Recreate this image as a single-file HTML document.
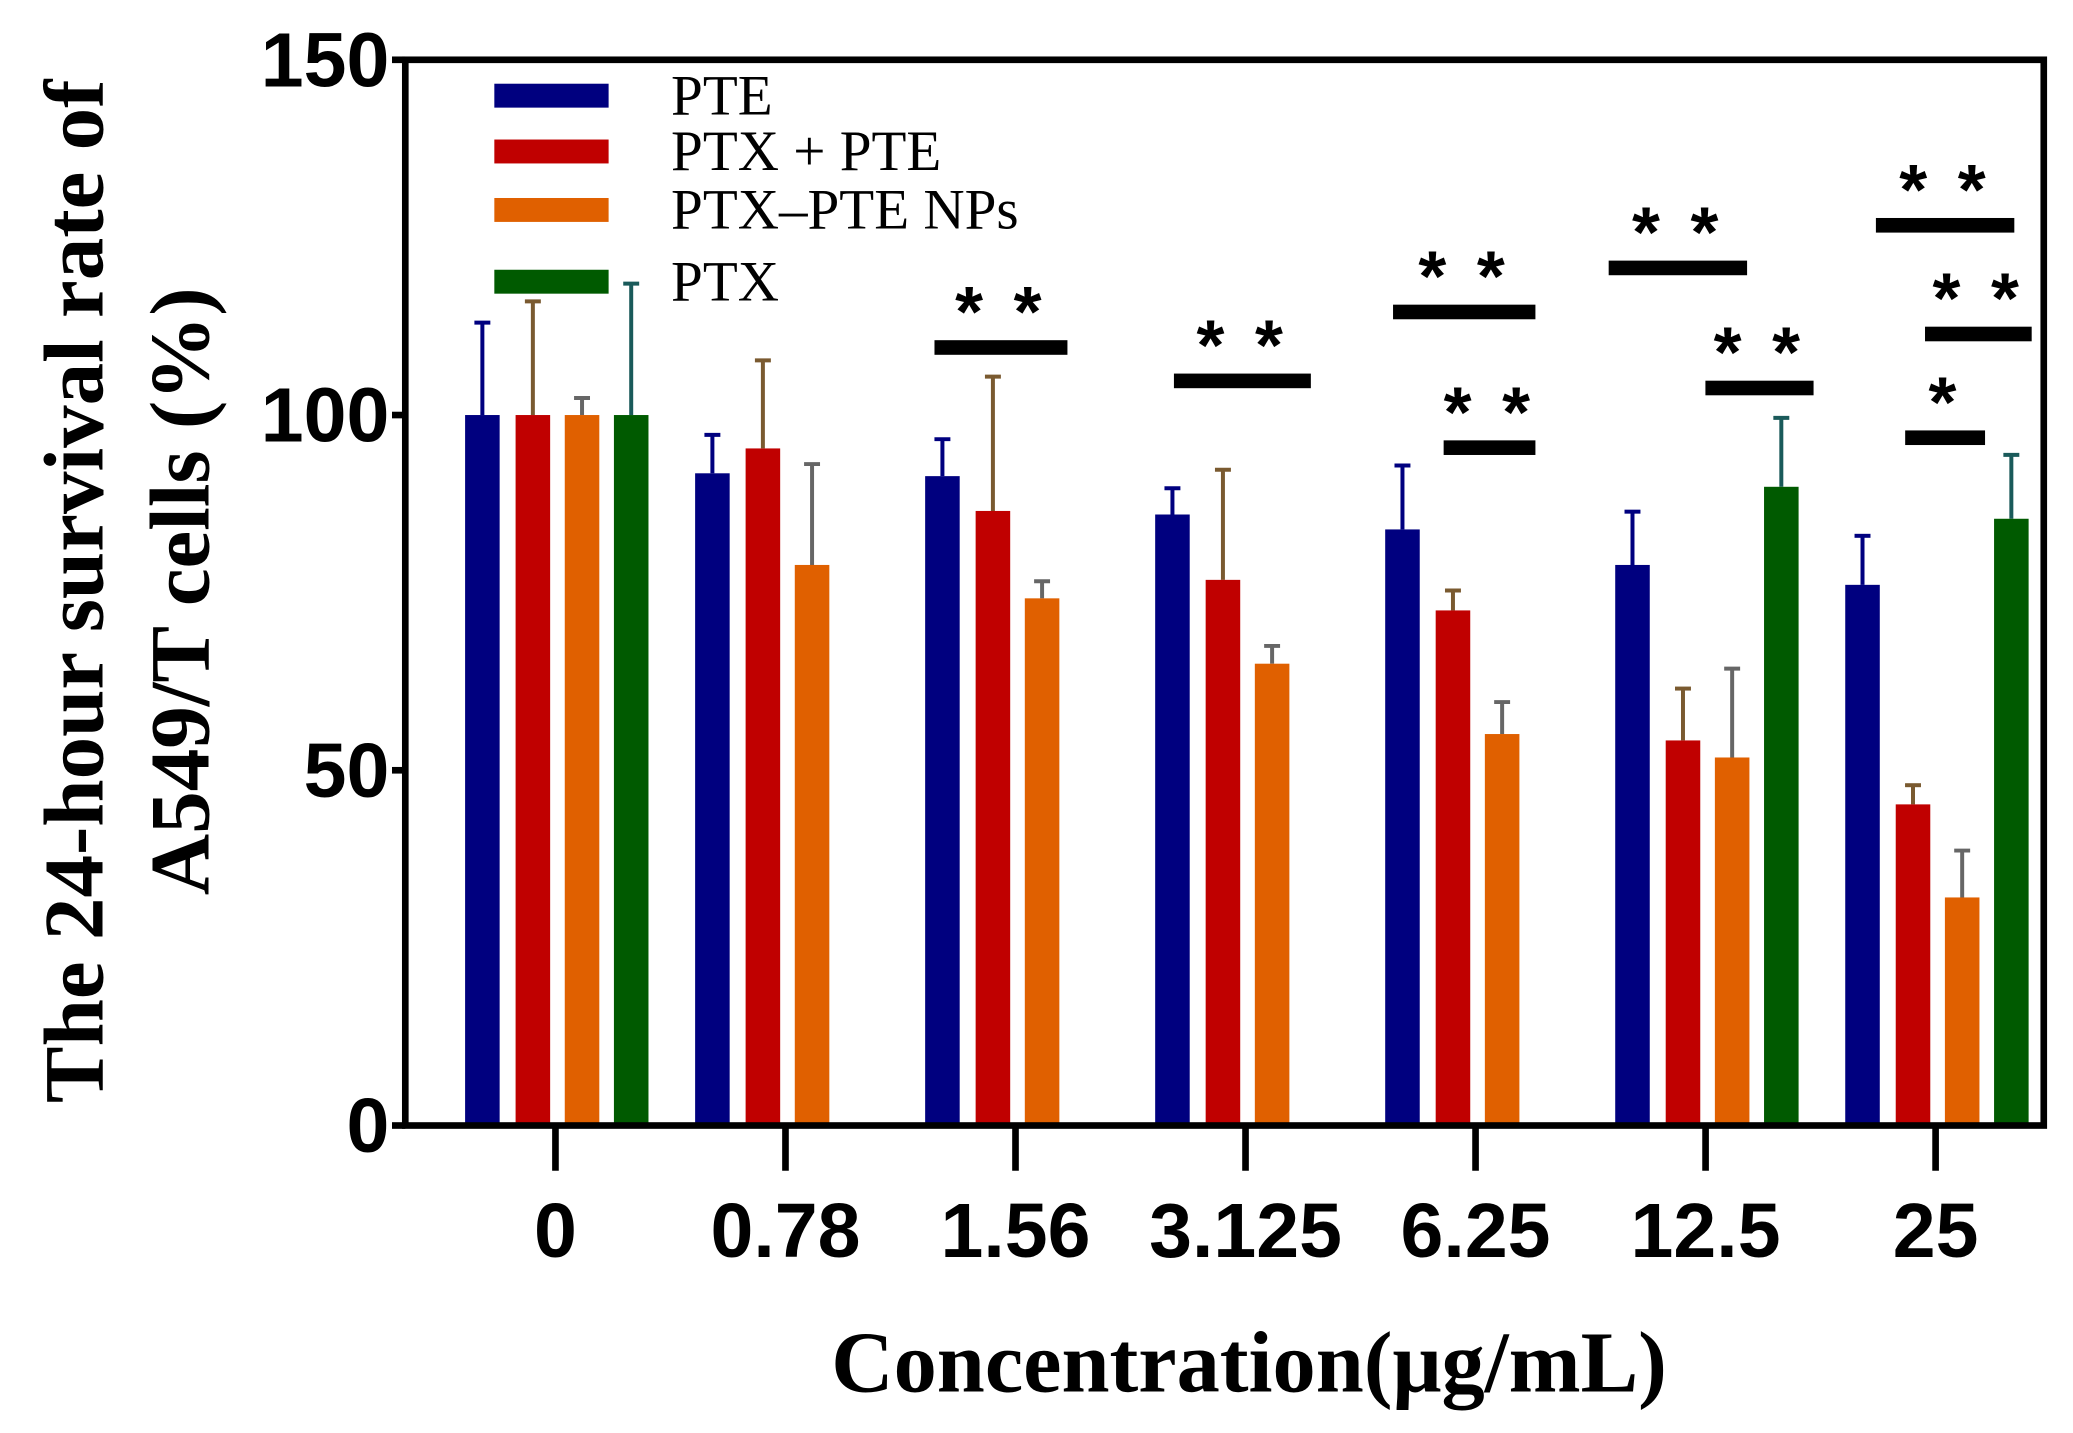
<!DOCTYPE html>
<html><head><meta charset="utf-8"><style>
html,body{margin:0;padding:0;background:#fff;}
svg{display:block;}
</style></head><body>
<svg id="chart" width="2073" height="1433" viewBox="0 0 1560 1078.4" preserveAspectRatio="none" xmlns="http://www.w3.org/2000/svg">
<g id="plot"></g>
</svg>
<script>
const categories = ["0","0.78","1.56","3.125","6.25","12.5","25"];
const seriesNames = ["PTE","PTX + PTE","PTX\u2013PTE NPs","PTX"];
const pteVals = [100,91.8,91.4,86,83.9,78.9,76.1];
const pteErr = [113,97.2,96.6,89.7,92.9,86.4,83];
const ptxPteVals = [100,95.3,86.5,76.8,72.5,54.2,45.2];
const ptxPteErr = [116,107.7,105.4,92.3,75.3,61.5,47.9];
const npsVals = [100,78.9,74.2,65,55.1,51.8,32.1];
const npsErr = [102.4,93.1,76.6,67.5,59.6,64.3,38.7];
const ptxVals = [100,null,null,null,null,89.9,85.4];
const ptxErr = [118.5,null,null,null,null,99.6,94.4];
const yTicks = [0,50,100,150];
// significance: category index, start/end in series-slot units, y value, label
const sigCat = [2,3,4,4,5,5,6,6,6];
const sigFrom = [-0.16,0.03,-0.19,0.83,-0.48,1.47,0.27,1.26,0.86];
const sigTo = [2.52,2.79,2.68,2.68,2.31,3.65,3.06,3.41,2.47];
const sigY = [109.6,104.9,114.6,95.5,120.8,103.9,126.8,111.5,96.9];
const sigLabel = ["* *","* *","* *","* *","* *","* *","* *","* *","*"];

const NS="http://www.w3.org/2000/svg";
const g=document.getElementById('plot');
const X0=305,X1=1538,Y0=847,Y1=45;
const y=v=>Y0-(v/150)*(Y0-Y1);
const cx=i=>418+i*173.1;
const off=[-55,-17,20,57];
const BW=26;
const fills=["#00007f","#c00000","#e06000","#005a00"];
const errCol=["#00007f","#7a5a30","#666666","#1a5a5a"];
function el(t,a,p){const e=document.createElementNS(NS,t);for(const k in a)e.setAttribute(k,a[k]);(p||g).appendChild(e);return e;}
const vals=[pteVals,ptxPteVals,npsVals,ptxVals], errs=[pteErr,ptxPteErr,npsErr,ptxErr];
const sx=(i,s)=>cx(i)+off[0]+s*((off[3]-off[0])/3);
for(let s=0;s<4;s++){for(let i=0;i<categories.length;i++){const v=vals[s][i];if(v==null)continue;
 const bx=cx(i)+off[s]-BW/2;
 const e=errs[s][i];
 const l=el('line',{x1:cx(i)+off[s],x2:cx(i)+off[s],y1:y(v),y2:y(e),stroke:errCol[s],'stroke-width':3});
 
 const c=el('line',{x1:cx(i)+off[s]-6,x2:cx(i)+off[s]+6,y1:y(e),y2:y(e),stroke:errCol[s],'stroke-width':3});
 
 const r=el('rect',{x:bx,y:y(v),width:BW,height:Y0-y(v),fill:fills[s]});
 
}}
for(let k=0;k<sigCat.length;k++){const a=sx(sigCat[k],sigFrom[k]),b=sx(sigCat[k],sigTo[k]);
 const r=el('rect',{x:a,y:y(sigY[k])-5,width:b-a,height:11,fill:'#000'});
 
 const t=el('text',{x:(a+b)/2,y:y(sigY[k])-8,'text-anchor':'middle','font-family':'Liberation Sans, sans-serif','font-size':54,'font-weight':'bold','letter-spacing':'4'});
 t.textContent=sigLabel[k];
}
const f=el('rect',{x:X0,y:Y1,width:X1-X0,height:Y0-Y1,fill:'none',stroke:'#000','stroke-width':5});

for(const t of yTicks){
 const l=el('line',{x1:X0-10,x2:X0,y1:y(t),y2:y(t),stroke:'#000','stroke-width':5});
 
 const tx=el('text',{x:293,y:y(t)+20,'text-anchor':'end','font-family':'Liberation Sans, sans-serif','font-size':58,'font-weight':'bold'});
 tx.textContent=t;
}
categories.forEach((c,i)=>{
 const l=el('line',{x1:cx(i),x2:cx(i),y1:Y0,y2:881,stroke:'#000','stroke-width':5});
 
 const tx=el('text',{x:cx(i),y:946,'text-anchor':'middle','font-family':'Liberation Sans, sans-serif','font-size':58,'font-weight':'bold'});
 tx.textContent=c;
});
const ly=[72,114,158,212];
seriesNames.forEach((n,s)=>{
 const r=el('rect',{x:372,y:ly[s]-9,width:86,height:18,fill:fills[s]});
 
 const t=el('text',{x:505,y:ly[s]+14,'font-family':'Liberation Serif, serif','font-size':43});
 t.textContent=n;
});
const xt=el('text',{x:940,y:1047,'text-anchor':'middle','font-family':'Liberation Serif, serif','font-size':65,'font-weight':'bold'});
xt.textContent='Concentration(\u03bcg/mL)';
const yt1=el('text',{x:0,y:0,transform:'translate(77,445) rotate(-90)','text-anchor':'middle','font-family':'Liberation Serif, serif','font-size':64,'font-weight':'bold'});
yt1.textContent='The 24-hour survival rate of';
const yt2=el('text',{x:0,y:0,transform:'translate(157,445) rotate(-90)','text-anchor':'middle','font-family':'Liberation Serif, serif','font-size':64,'font-weight':'bold'});
yt2.textContent='A549/T cells (%)';
</script>
</body></html>
